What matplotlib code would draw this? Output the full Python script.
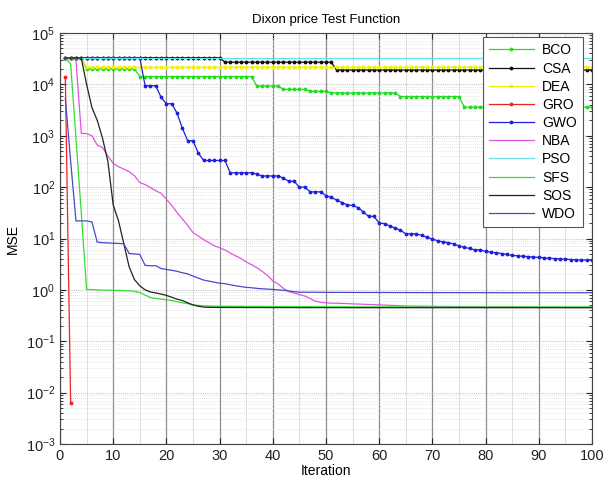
import numpy as np
import matplotlib
matplotlib.use('Agg')
import matplotlib.pyplot as plt
from matplotlib.ticker import LogLocator, MultipleLocator, LogFormatterMathtext, NullFormatter

plt.rcParams['font.family'] = ['Liberation Sans', 'DejaVu Sans']
plt.rcParams['mathtext.fontset'] = 'custom'
plt.rcParams['mathtext.rm'] = 'Liberation Sans'
plt.rcParams['mathtext.it'] = 'Liberation Sans'

iterations = np.arange(1, 101)

# step series: levels and run lengths (iterations per level)
bco_levels = [3.3e4, 2.0e4, 1.42e4, 9.3e3, 8.0e3, 7.3e3, 6.8e3, 5.8e3, 3.6e3]
bco_runs = [4, 10, 22, 5, 5, 4, 13, 12, 25]
csa_levels = [3.3e4, 2.7e4, 1.9e4]
csa_runs = [30, 21, 49]
dea_levels = [3.3e4, 2.15e4]
dea_runs = [4, 96]
pso_levels = [3.3e4]
pso_runs = [100]

gro_iter = [1, 2]
gro_vals = [1.4e4, 6.3e-3]

gwo_vals = [3.3e4] * 15 + [
    9.4e3, 9.4e3, 9.4e3, 5.6e3, 4.2e3, 4.2e3, 2.75e3, 1.4e3, 800, 800,
    460, 330, 330, 330, 330, 330, 190, 190, 190, 190,
    190, 180, 165, 165, 165, 165, 150, 130, 130, 100,
    100, 81, 81, 81,
    68, 63, 56, 50, 45, 44, 40, 33, 27, 27,
    20, 19.5, 17.5, 16, 14.5, 12.3, 12.3, 12.3, 11.5, 10.5,
    9.8, 9.0, 8.6, 8.3, 7.8, 7.2, 6.7, 6.4, 6.0, 6.0,
    5.6, 5.4, 5.3, 5.1, 4.9, 4.7, 4.6, 4.5, 4.45, 4.35,
    4.3, 4.2, 4.15, 4.05, 4.0, 3.95, 3.9, 3.85, 3.8, 3.8,
    3.8]

nba_vals = [
    32400, 32400, 29500, 1120, 1100, 1000, 660, 590, 400, 290,
    250, 224, 200, 166, 123, 112, 98, 85, 76, 58,
    44, 32, 24, 18, 13, 11.2, 9.5, 8.3, 7.2, 6.6,
    6.0, 5.2, 4.6, 4.1, 3.5, 3.1, 2.7, 2.3, 1.9, 1.5,
    1.3, 1.07, 0.93, 0.87, 0.81, 0.76, 0.68, 0.60, 0.575, 0.56,
    0.55, 0.55, 0.545, 0.54, 0.535, 0.53, 0.525, 0.52, 0.515, 0.51,
    0.505, 0.5, 0.495, 0.49, 0.485, 0.483, 0.481, 0.48, 0.478, 0.476,
    0.475, 0.474, 0.473, 0.472, 0.471, 0.47, 0.469, 0.468, 0.467, 0.466,
    0.465, 0.464, 0.463, 0.462, 0.461, 0.46, 0.46, 0.459, 0.459, 0.458,
    0.458, 0.457, 0.457, 0.456, 0.456, 0.455, 0.455, 0.455, 0.455, 0.455]

sfs_vals = [
    32400, 25100, 890, 31.6, 1.02, 1.01, 1.0, 0.99, 0.985, 0.98,
    0.975, 0.97, 0.96, 0.94, 0.89, 0.79, 0.71, 0.68, 0.66, 0.645,
    0.62, 0.59, 0.56, 0.54, 0.51, 0.50, 0.49, 0.485, 0.48, 0.478,
    0.477, 0.477, 0.476, 0.476, 0.475, 0.475, 0.474, 0.474, 0.473, 0.473,
    0.472, 0.472, 0.471, 0.471, 0.470, 0.470, 0.470, 0.469, 0.469, 0.469,
    0.468, 0.468, 0.468, 0.468, 0.467, 0.467, 0.467, 0.467, 0.467, 0.466,
    0.466, 0.466, 0.466, 0.466, 0.466, 0.465, 0.465, 0.465, 0.465, 0.465,
    0.465, 0.465, 0.465, 0.465, 0.465, 0.465, 0.465, 0.465, 0.465, 0.465,
    0.465, 0.465, 0.465, 0.465, 0.465, 0.465, 0.465, 0.465, 0.465, 0.465,
    0.465, 0.465, 0.465, 0.465, 0.465, 0.465, 0.465, 0.465, 0.465, 0.465]

sos_vals = [
    32400, 32400, 32400, 32400, 10000, 3550, 2000, 890, 316, 45,
    22, 7.9, 2.8, 1.58, 1.2, 1.0, 0.91, 0.87, 0.83, 0.78,
    0.72, 0.66, 0.62, 0.56, 0.51, 0.48, 0.462, 0.458, 0.456, 0.455,
    0.455, 0.454, 0.454, 0.454, 0.453, 0.453, 0.453, 0.453, 0.452, 0.452,
    0.452, 0.452, 0.452, 0.452, 0.451, 0.451, 0.451, 0.451, 0.451, 0.451,
    0.451, 0.451, 0.451, 0.450, 0.450, 0.450, 0.450, 0.450, 0.450, 0.450,
    0.450, 0.450, 0.450, 0.450, 0.450, 0.450, 0.450, 0.450, 0.450, 0.450,
    0.450, 0.450, 0.450, 0.450, 0.450, 0.450, 0.450, 0.450, 0.450, 0.450,
    0.450, 0.450, 0.450, 0.450, 0.450, 0.450, 0.450, 0.450, 0.450, 0.450,
    0.450, 0.450, 0.450, 0.450, 0.450, 0.450, 0.450, 0.450, 0.450, 0.450]

wdo_vals = [
    5400, 320, 22, 22, 22, 21, 8.5, 8.3, 8.2, 8.1,
    8.0, 7.9, 5.1, 5.0, 4.9, 3.0, 2.95, 2.95, 2.6, 2.5,
    2.4, 2.3, 2.15, 2.05, 1.85, 1.7, 1.55, 1.48, 1.41, 1.35,
    1.32, 1.26, 1.2, 1.16, 1.12, 1.1, 1.07, 1.05, 1.035, 1.02,
    1.0, 0.98, 0.955, 0.92, 0.9, 0.9, 0.9, 0.9, 0.895, 0.895,
    0.895, 0.895, 0.893, 0.893, 0.891, 0.891, 0.89, 0.89, 0.89, 0.889,
    0.889, 0.888, 0.888, 0.887, 0.887, 0.886, 0.886, 0.885, 0.885, 0.885,
    0.884, 0.884, 0.884, 0.883, 0.883, 0.883, 0.882, 0.882, 0.882, 0.882,
    0.881, 0.881, 0.881, 0.881, 0.880, 0.880, 0.880, 0.880, 0.880, 0.880,
    0.880, 0.880, 0.880, 0.880, 0.880, 0.880, 0.880, 0.880, 0.880, 0.880]

bco_vals = np.repeat(bco_levels, bco_runs)
csa_vals = np.repeat(csa_levels, csa_runs)
dea_vals = np.repeat(dea_levels, dea_runs)
pso_vals = np.repeat(pso_levels, pso_runs)

fig = plt.figure(figsize=(6.03, 4.84), dpi=100)
ax = fig.add_axes([60/603, 1-444/484, 532/603, 411/484])

ms = 3.5
lw = 0.9
ax.plot(iterations, bco_vals, color='#22dd22', marker='.', ms=ms, lw=lw, label='BCO')
ax.plot(iterations, csa_vals, color='#111111', marker='.', ms=ms, lw=lw, label='CSA')
ax.plot(iterations, dea_vals, color='#f2f200', marker='.', ms=ms, lw=lw, label='DEA')
ax.plot(gro_iter, gro_vals, color='#ee2222', marker='.', ms=ms, lw=lw, label='GRO')
ax.plot(iterations, gwo_vals, color='#1f1fdd', marker='.', ms=ms, lw=lw, label='GWO')
ax.plot(iterations, nba_vals, color='#e055e0', lw=lw, label='NBA')
ax.plot(iterations, pso_vals, color='#66e0e0', lw=lw, label='PSO')
ax.plot(iterations, sfs_vals, color='#33dd33', lw=lw, label='SFS')
ax.plot(iterations, sos_vals, color='#222222', lw=lw, label='SOS')
ax.plot(iterations, wdo_vals, color='#4848cc', lw=lw, label='WDO')

ax.set_yscale('log')
ax.set_xlim(0, 100)
ax.set_ylim(1e-3, 1e5)
ax.xaxis.set_major_locator(MultipleLocator(10))
ax.xaxis.set_minor_locator(MultipleLocator(5))
ax.yaxis.set_major_locator(LogLocator(base=10, numticks=20))
ax.yaxis.set_minor_locator(LogLocator(base=10, subs=np.arange(2, 10), numticks=20))
ax.yaxis.set_major_formatter(LogFormatterMathtext())
ax.yaxis.set_minor_formatter(NullFormatter())

ax.grid(which='major', axis='x', color='#8c8c8c', lw=0.9, ls='-')
ax.grid(which='minor', axis='x', color='#dddddd', lw=0.7, ls='-')
ax.grid(which='major', axis='y', color='#c8c8c8', lw=0.8, ls=(0, (1, 1)))
ax.grid(which='minor', axis='y', color='#dcdcdc', lw=0.6, ls=(0, (1, 1.5)))
ax.set_axisbelow(True)

ax.tick_params(which='both', direction='in', top=True, right=True, labelsize=10.5, colors='#222222')
ax.tick_params(which='major', length=4)
ax.tick_params(which='minor', length=2)
ax.tick_params(axis='x', which='minor', length=0)
for s in ax.spines.values():
    s.set_color('#444444')
    s.set_linewidth(0.8)

ax.set_title('Dixon price Test Function', fontsize=9.5, pad=7)
ax.set_xlabel('Iteration', fontsize=10, labelpad=1)
ax.set_ylabel('MSE', fontsize=10, labelpad=4)

leg = ax.legend(loc='upper right', bbox_to_anchor=(0.983, 0.99), fontsize=10,
                frameon=True, fancybox=False, edgecolor='#555555', framealpha=1,
                handlelength=3.2, labelspacing=0.3, borderpad=0.45, handletextpad=0.6,
                borderaxespad=0)
leg.get_frame().set_linewidth(0.8)

fig.savefig('out.png', dpi=100)
